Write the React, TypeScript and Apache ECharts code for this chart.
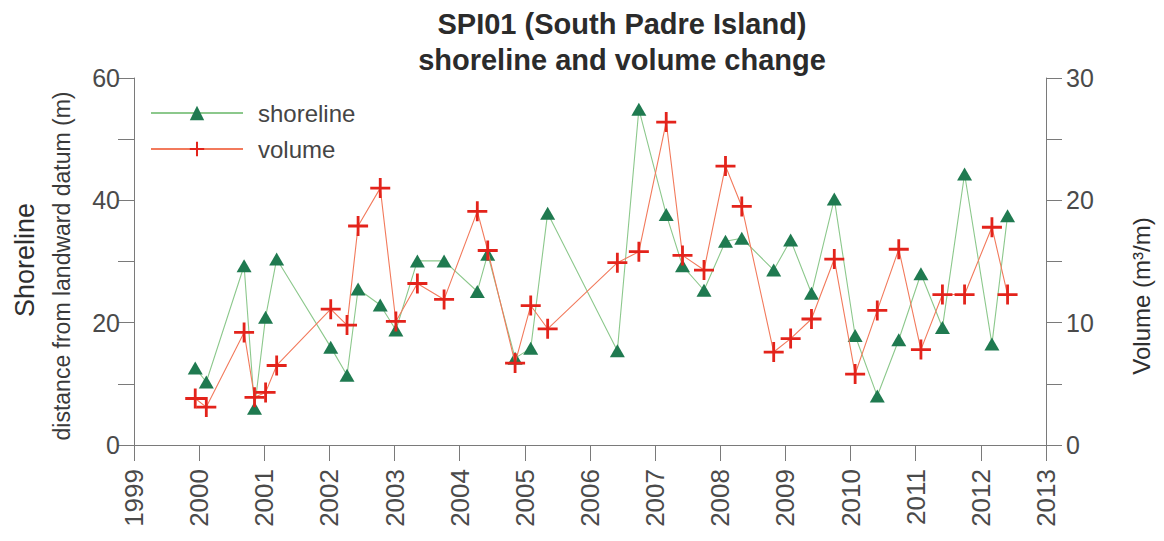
import React, { useEffect, useRef } from "react";
import * as echarts from "echarts";

const surveyDates = [1999.94, 2000.11, 2000.69, 2000.85, 2001.02, 2001.19, 2002.02, 2002.27, 2002.44, 2002.78, 2003.02, 2003.35, 2003.76, 2004.27, 2004.43, 2004.85, 2005.09, 2005.35, 2006.42, 2006.75, 2007.17, 2007.42, 2007.75, 2008.08, 2008.33, 2008.82, 2009.08, 2009.4, 2009.75, 2010.07, 2010.41, 2010.74, 2011.08, 2011.41, 2011.75, 2012.17, 2012.41];
const shorelineValues = [12.6, 10.3, 29.3, 6.0, 20.9, 30.4, 16.0, 11.4, 25.5, 22.9, 18.8, 30.1, 30.1, 25.1, 31.2, 14.2, 15.8, 37.9, 15.4, 54.9, 37.7, 29.3, 25.3, 33.3, 33.8, 28.6, 33.5, 24.8, 40.2, 17.9, 8.0, 17.2, 28.0, 19.2, 44.3, 16.5, 37.5];
const volumeValues = [3.8, 3.1, 9.2, 3.9, 4.3, 6.5, 11.1, 9.8, 17.9, 21.0, 10.1, 13.2, 11.9, 19.1, 15.9, 6.7, 11.4, 9.5, 14.9, 15.8, 26.4, 15.5, 14.3, 22.8, 19.5, 7.6, 8.7, 10.3, 15.2, 5.8, 11.0, 16.0, 7.8, 12.3, 12.3, 17.8, 12.3];
const leftTickLabels = [0, 20, 40, 60];
const rightTickLabels = [0, 10, 20, 30];

const FONT = "'Liberation Sans', Arial, Helvetica, sans-serif";
const CROSS = "path://M8.6,0h2.8v8.6h8.6v2.8h-8.6v8.6h-2.8v-8.6h-8.6v-2.8h8.6z";

export default function App() {
  const ref = useRef<HTMLDivElement>(null);
  useEffect(() => {
    if (!ref.current) return;
    const chart = echarts.init(ref.current, undefined, { renderer: "svg" });
    const axisGray = "#7a7a7a";
    const labelGray = "#4a4a4a";
    chart.setOption({
      animation: false,
      backgroundColor: "#ffffff",
      textStyle: { fontFamily: FONT },
      grid: { left: 134, right: 118, top: 78, bottom: 96 },
      legend: {
        data: ["shoreline", "volume"],
        orient: "vertical",
        left: 145,
        top: 96,
        itemWidth: 92,
        itemHeight: 18,
        itemGap: 12,
        textStyle: { fontSize: 24, color: "#454545", fontFamily: FONT, padding: [0, 0, 0, 10] },
      },
      xAxis: {
        type: "value",
        min: 1999,
        max: 2013,
        interval: 1,
        axisLine: { show: true, lineStyle: { color: axisGray, width: 1 } },
        axisTick: { show: true, length: 16, inside: false, lineStyle: { color: axisGray } },
        splitLine: { show: false },
        axisLabel: {
          rotate: 90,
          margin: 24,
          fontSize: 26,
          color: labelGray,
          fontFamily: FONT,
          formatter: (v: number) => String(v),
        },
      },
      yAxis: [
        {
          type: "value",
          position: "left",
          min: 0,
          max: 60,
          interval: 10,
          axisLine: { show: true, lineStyle: { color: axisGray, width: 1 } },
          axisTick: { show: true, length: 16, lineStyle: { color: axisGray } },
          splitLine: { show: false },
          axisLabel: {
            margin: 14,
            fontSize: 25,
            color: labelGray,
            fontFamily: FONT,
            formatter: (v: number) => (leftTickLabels.includes(v) ? String(v) : ""),
          },
        },
        {
          type: "value",
          position: "right",
          min: 0,
          max: 30,
          interval: 5,
          axisLine: { show: true, lineStyle: { color: axisGray, width: 1 } },
          axisTick: { show: true, length: 16, lineStyle: { color: axisGray } },
          splitLine: { show: false },
          axisLabel: {
            margin: 20,
            fontSize: 25,
            color: labelGray,
            fontFamily: FONT,
            formatter: (v: number) => (rightTickLabels.includes(v) ? String(v) : ""),
          },
        },
      ],
      series: [
        {
          name: "shoreline",
          type: "line",
          yAxisIndex: 0,
          data: surveyDates.map((d, i) => [d, shorelineValues[i]]),
          symbol: "triangle",
          symbolSize: [15, 13],
          lineStyle: { color: "#8cc88c", width: 1.1 },
          itemStyle: { color: "#1f7a50" },
          z: 2,
        },
        {
          name: "volume",
          type: "line",
          yAxisIndex: 1,
          data: surveyDates.map((d, i) => [d, volumeValues[i]]),
          symbol: CROSS,
          symbolSize: 20,
          lineStyle: { color: "#f27a5c", width: 1.1 },
          itemStyle: { color: "#e3231b" },
          z: 3,
        },
      ],
      graphic: [
        {
          type: "text",
          x: 622,
          y: 6,
          style: {
            text: "SPI01 (South Padre Island)\nshoreline and volume change",
            font: `bold 29px ${FONT}`,
            fill: "#2b2b2b",
            textAlign: "center",
            lineHeight: 36,
          },
        },
        {
          type: "text",
          x: 25,
          y: 260,
          rotation: Math.PI / 2,
          style: {
            text: "Shoreline",
            font: `27px ${FONT}`,
            fill: "#2f2f2f",
            textAlign: "center",
            textVerticalAlign: "middle",
          },
        },
        {
          type: "text",
          x: 62,
          y: 266,
          rotation: Math.PI / 2,
          style: {
            text: "distance from landward datum (m)",
            font: `23px ${FONT}`,
            fill: "#3a3a3a",
            textAlign: "center",
            textVerticalAlign: "middle",
          },
        },
        {
          type: "text",
          x: 1141,
          y: 296,
          rotation: Math.PI / 2,
          style: {
            text: "Volume (m³/m)",
            font: `24px ${FONT}`,
            fill: "#2f2f2f",
            textAlign: "center",
            textVerticalAlign: "middle",
          },
        },
      ],
    });
    return () => chart.dispose();
  }, []);
  return (
    <div
      ref={ref}
      style={{ position: "fixed", left: 0, top: 0, width: 1164, height: 541, background: "#fff" }}
    />
  );
}
